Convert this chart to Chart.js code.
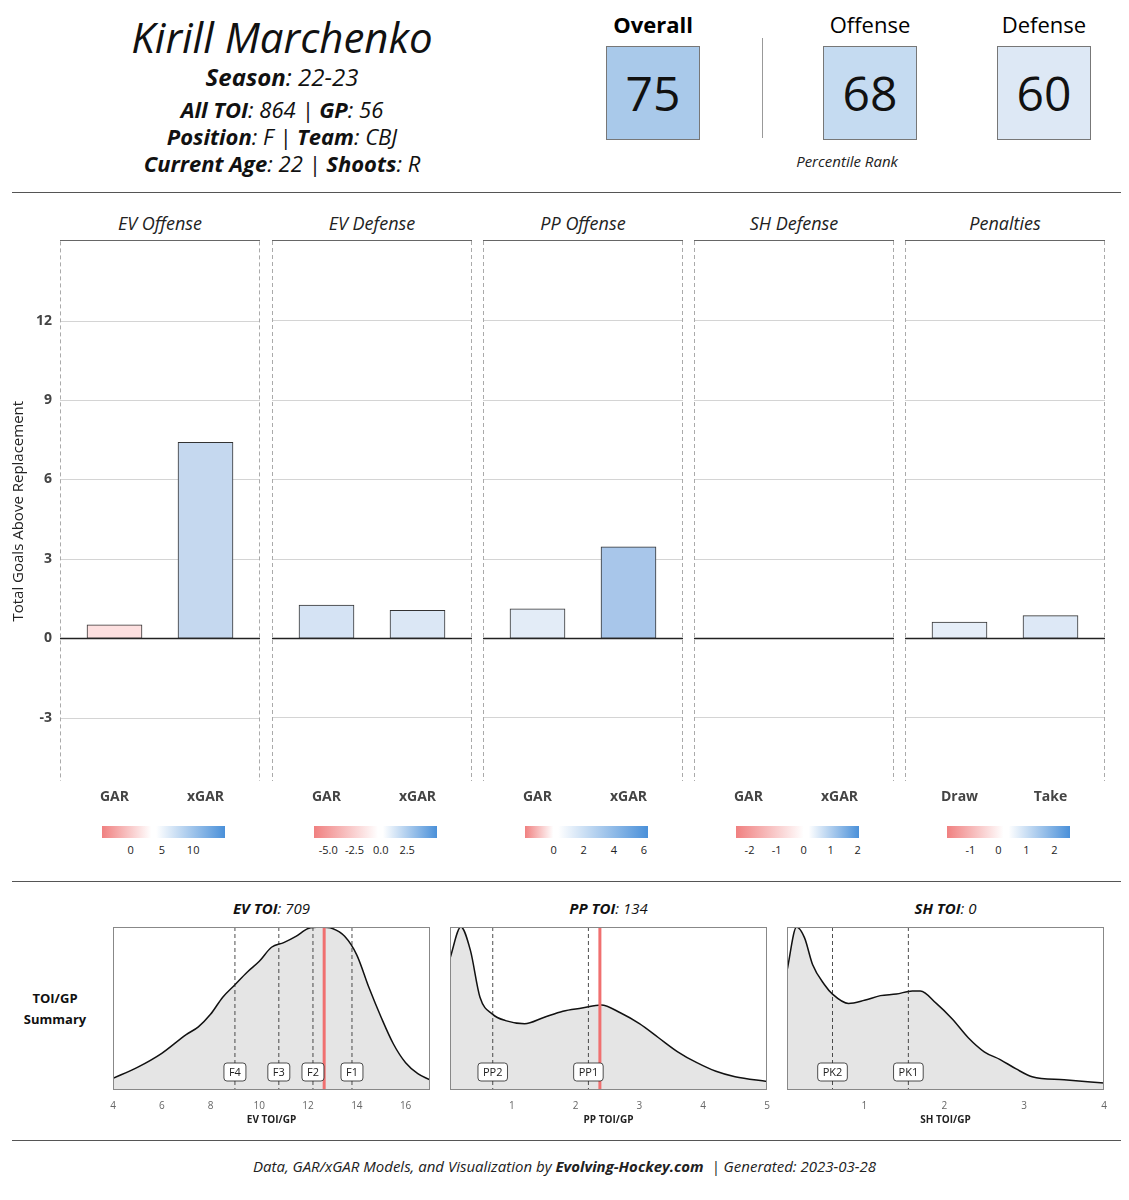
<!DOCTYPE html>
<html>
<head>
<meta charset="utf-8">
<script src="https://cdn.jsdelivr.net/npm/chart.js@4"></script>
<style>
body { margin: 0; width: 1129px; height: 1200px; background: #fff; font-family: "Open Sans", sans-serif; position: relative; overflow: hidden; }
.abs { position: absolute; }
.c { text-align: center; }
.rule { position: absolute; left: 12px; width: 1109px; height: 1px; background: #555; }
.hdr { position: absolute; left: 82px; width: 400px; text-align: center; font-style: italic; color: #111; }
.hdr b { font-weight: 700; }
.box { position: absolute; width: 92px; height: 92px; border: 1px solid #777; font-size: 48px; line-height: 92px; text-align: center; color: #111; }
.lab { position: absolute; width: 140px; text-align: center; font-size: 22px; }
.strip { position: absolute; top: 211px; height: 29px; border-bottom: 1.5px solid #666; text-align: center; font-style: italic; font-size: 18px; color: #222; }
.cbar { position: absolute; top: 826px; height: 12px; width: 123px; }
.ctick { position: absolute; top: 842px; font-size: 11px; color: #222; transform: translateX(-50%); }
.dtitle { position: absolute; top: 898px; text-align: center; font-size: 15px; font-style: italic; color: #111; }
canvas { position: absolute; }
</style>
</head>
<body>
<div class="hdr" style="top:8px;font-size:42px;">Kirill Marchenko</div>
<div class="hdr" style="top:60px;font-size:24px;"><b>Season</b>: 22-23</div>
<div class="hdr" style="top:94px;font-size:22px;"><b>All TOI</b>: 864 | <b>GP</b>: 56</div>
<div class="hdr" style="top:121px;font-size:22px;"><b>Position</b>: F | <b>Team</b>: CBJ</div>
<div class="hdr" style="top:148px;font-size:22px;"><b>Current Age</b>: 22 | <b>Shoots</b>: R</div>

<div class="lab" style="left:583px;top:9px;font-weight:700;">Overall</div>
<div class="lab" style="left:800px;top:9px;">Offense</div>
<div class="lab" style="left:974px;top:9px;">Defense</div>
<div class="box" id="bOverall" style="left:606px;top:46px;"></div>
<div class="box" id="bOffense" style="left:823px;top:46px;"></div>
<div class="box" id="bDefense" style="left:997px;top:46px;"></div>
<div class="abs" style="left:762px;top:38px;width:1px;height:100px;background:#999;"></div>
<div class="abs c" style="left:747px;top:151px;width:200px;font-size:15px;font-style:italic;color:#222;">Percentile Rank</div>

<div class="rule" style="top:192px;"></div>
<div class="rule" style="top:881px;"></div>
<div class="rule" style="top:1140px;"></div>

<div id="strips"></div>
<div id="cbars"></div>

<div class="abs" style="left:10px;top:988px;width:90px;text-align:center;font-weight:700;font-size:13px;line-height:21px;color:#111;">TOI/GP<br>Summary</div>
<div id="dtitles"></div>

<div class="abs c" style="left:0;top:1156px;width:1129px;font-size:15px;font-style:italic;color:#222;">Data, GAR/xGAR Models, and Visualization by <b>Evolving-Hockey.com</b> &nbsp;| Generated: 2023-03-28</div>

<canvas id="bar0"></canvas><canvas id="bar1"></canvas><canvas id="bar2"></canvas><canvas id="bar3"></canvas><canvas id="bar4"></canvas>
<canvas id="dens0"></canvas><canvas id="dens1"></canvas><canvas id="dens2"></canvas>

<script>
// Percentile ranks
const rankNames = ['Overall', 'Offense', 'Defense'];
const rankValues = [75, 68, 60];
const rankColors = ['#a9c9ea', '#c5dbf1', '#dde8f5'];

// GAR panels
const panelTitles = ['EV Offense', 'EV Defense', 'PP Offense', 'SH Defense', 'Penalties'];
const panelCats = [['GAR', 'xGAR'], ['GAR', 'xGAR'], ['GAR', 'xGAR'], ['GAR', 'xGAR'], ['Draw', 'Take']];
const panelValues = [[0.5, 7.4], [1.25, 1.05], [1.1, 3.45], [0, 0], [0.6, 0.85]];
const panelColors = [['#fde0e0', '#c5d8ef'], ['#d5e3f4', '#dbe7f5'], ['#e3ecf7', '#a8c6ea'], ['#ffffff', '#ffffff'], ['#e6eef8', '#dde8f6']];
const yTicks = [-3, 0, 3, 6, 9, 12];

// colour bar legends
const cbarTicks = [[0, 5, 10], [-5.0, -2.5, 0.0, 2.5], [0, 2, 4, 6], [-2, -1, 0, 1, 2], [-1, 0, 1, 2]];
const cbarTickLabels = [['0', '5', '10'], ['-5.0', '-2.5', '0.0', '2.5'], ['0', '2', '4', '6'], ['-2', '-1', '0', '1', '2'], ['-1', '0', '1', '2']];
const cbarRange = [[-4.6, 15.1], [-6.35, 5.34], [-1.9, 6.27], [-2.5, 2.05], [-1.84, 2.56]];
const cbarWhite = [0.4, 0.52, 0.23, 0.55, 0.46];

// TOI/GP densities
const densTitles = [['EV TOI', 709], ['PP TOI', 134], ['SH TOI', 0]];
const densAxis = ['EV TOI/GP', 'PP TOI/GP', 'SH TOI/GP'];
const evX = [4, 5, 6, 7, 7.5, 8, 8.5, 9, 9.5, 10, 10.5, 11, 11.5, 12, 12.5, 13, 13.5, 14, 14.5, 15, 15.5, 16, 16.5, 17];
const evY = [0.03, 0.1, 0.19, 0.31, 0.36, 0.44, 0.55, 0.63, 0.71, 0.78, 0.87, 0.9, 0.94, 0.99, 1.0, 0.99, 0.94, 0.82, 0.61, 0.42, 0.25, 0.13, 0.06, 0.02];
const ppX = [0.03, 0.2, 0.35, 0.5, 0.7, 0.9, 1.2, 1.5, 1.8, 2.1, 2.4, 2.7, 3.0, 3.3, 3.6, 3.9, 4.2, 4.5, 5.0];
const ppY = [0.8, 1.0, 0.85, 0.55, 0.44, 0.4, 0.38, 0.42, 0.46, 0.48, 0.5, 0.45, 0.38, 0.29, 0.2, 0.13, 0.075, 0.04, 0.01];
const shX = [0.03, 0.15, 0.25, 0.35, 0.5, 0.6, 0.8, 1.0, 1.2, 1.4, 1.6, 1.7, 1.9, 2.1, 2.3, 2.5, 2.7, 2.9, 3.1, 3.5, 4.0];
const shY = [0.72, 1.0, 0.93, 0.76, 0.63, 0.57, 0.51, 0.53, 0.56, 0.57, 0.59, 0.59, 0.51, 0.41, 0.29, 0.2, 0.15, 0.09, 0.04, 0.02, 0.0];
const densX = [evX, ppX, shX];
const densY = [evY, ppY, shY];
const densRange = [[4, 17], [0.03, 5], [0.03, 4]];
const densTicks = [[4, 6, 8, 10, 12, 14, 16], [1, 2, 3, 4, 5], [1, 2, 3, 4]];
const lineNames = [['F4', 'F3', 'F2', 'F1'], ['PP2', 'PP1'], ['PK2', 'PK1']];
const lineValues = [[9.0, 10.8, 12.2, 13.8], [0.7, 2.2], [0.6, 1.55]];
const playerValue = [12.66, 2.38, null];

rankNames.forEach((n, i) => {
    const el = document.getElementById('b' + n);
    el.textContent = rankValues[i];
    el.style.background = rankColors[i];
});

const panelLeft = [60, 272, 483, 694, 905];
const panelW = 200;
const sidePad = 9;

// strips and colour bars
let html = '';
panelTitles.forEach((t, i) => {
    html += `<div class="strip" style="left:${panelLeft[i]}px;width:${panelW}px;">${t}</div>`;
});
document.getElementById('strips').innerHTML = html;
html = '';
panelTitles.forEach((t, i) => {
    const left = panelLeft[i] + 42;
    const w = cbarWhite[i] * 100;
    html += `<div class="cbar" style="left:${left}px;background:linear-gradient(to right,#f08080 0%,#ffffff ${w}%,#ffffff ${w + 4}%,#4a90d9 100%);"></div>`;
    const [lo, hi] = cbarRange[i];
    cbarTicks[i].forEach((v, j) => {
        const x = left + (v - lo) / (hi - lo) * 123;
        html += `<div class="ctick" style="left:${x}px;">${cbarTickLabels[i][j]}</div>`;
    });
});
document.getElementById('cbars').innerHTML = html;

// grid lines across the whole panel and dashed panel borders
const panelFrame = {
    id: 'panelFrame',
    beforeDatasetsDraw(chart) {
        const { ctx, chartArea: a, scales: { y } } = chart;
        const l = a.left - sidePad, r = a.right + sidePad;
        ctx.save();
        yTicks.forEach(v => {
            const py = Math.round(y.getPixelForValue(v)) + 0.5;
            ctx.strokeStyle = v === 0 ? '#222' : '#d4d4d4';
            ctx.lineWidth = v === 0 ? 1.5 : 1;
            ctx.beginPath(); ctx.moveTo(l, py); ctx.lineTo(r, py); ctx.stroke();
        });
        ctx.strokeStyle = '#aaa';
        ctx.lineWidth = 1;
        ctx.setLineDash([4, 3]);
        [l + 0.5, r - 0.5].forEach(x => {
            ctx.beginPath(); ctx.moveTo(x, a.top); ctx.lineTo(x, a.bottom); ctx.stroke();
        });
        ctx.restore();
    }
};

const topShift = 14;
panelTitles.forEach((t, i) => {
    const first = i === 0;
    const cv = document.getElementById('bar' + i);
    const left = first ? 0 : panelLeft[i];
    const w = first ? panelLeft[0] + panelW : panelW;
    const extra = first ? 3 : 0;
    const h = 540 + topShift + 26 + extra;
    cv.style.left = left + 'px';
    cv.style.top = (241 - topShift - extra) + 'px';
    cv.style.width = w + 'px';
    cv.style.height = h + 'px';
    cv.width = w; cv.height = h;
    new Chart(cv, {
        type: 'bar',
        data: {
            labels: panelCats[i],
            datasets: [{
                data: panelValues[i],
                backgroundColor: panelColors[i],
                borderColor: '#333',
                borderWidth: 1,
                borderSkipped: false,
                barThickness: 55
            }]
        },
        options: {
            responsive: false,
            animation: false,
            layout: { padding: { left: first ? 10 : 0, right: sidePad, top: topShift, bottom: 0 } },
            plugins: { legend: { display: false }, tooltip: { enabled: false } },
            scales: {
                x: {
                    afterFit: s => { s.height = 26; },
                    grid: { display: false },
                    border: { display: false },
                    ticks: {
                        color: '#444', font: { family: 'Open Sans', size: 14, weight: 'bold' }, padding: 0
                    }
                },
                y: {
                    min: -5.4, max: 15,
                    afterBuildTicks: s => { s.ticks = yTicks.map(v => ({ value: v })); },
                    afterFit: s => { s.width = (first ? 50 : 0) + sidePad; },
                    grid: { display: false },
                    border: { display: false },
                    title: {
                        display: first, text: 'Total Goals Above Replacement',
                        color: '#222', font: { family: 'Open Sans', size: 15 }, padding: { top: 0, bottom: 4 }
                    },
                    ticks: {
                        display: first, color: '#444', padding: 9,
                        font: { family: 'Open Sans', size: 14, weight: 'bold' }
                    }
                }
            }
        },
        plugins: [panelFrame]
    });
});

// density panels
const densLeft = [113, 450, 787];
const densW = 317;
html = '';
densTitles.forEach((t, i) => {
    html += `<div class="dtitle" style="left:${densLeft[i]}px;width:${densW}px;"><b>${t[0]}</b>: ${t[1]}</div>`;
});
document.getElementById('dtitles').innerHTML = html;

const markers = {
    id: 'markers',
    afterDatasetsDraw(chart, args, opts) {
        const { ctx, chartArea: a, scales: { x } } = chart;
        ctx.save();
        ctx.strokeStyle = '#222';
        ctx.lineWidth = 0.8;
        ctx.setLineDash([4, 3]);
        opts.values.forEach(v => {
            const px = x.getPixelForValue(v);
            ctx.beginPath(); ctx.moveTo(px, a.top); ctx.lineTo(px, a.bottom); ctx.stroke();
        });
        ctx.setLineDash([]);
        if (opts.player != null) {
            const px = x.getPixelForValue(opts.player);
            ctx.strokeStyle = '#f07070';
            ctx.lineWidth = 3;
            ctx.beginPath(); ctx.moveTo(px, a.top); ctx.lineTo(px, a.bottom); ctx.stroke();
        }
        ctx.font = '11px "Open Sans"';
        ctx.textAlign = 'center';
        ctx.textBaseline = 'middle';
        opts.values.forEach((v, j) => {
            const px = x.getPixelForValue(v);
            const name = opts.names[j];
            const w = ctx.measureText(name).width + 10;
            const y = a.bottom - 18;
            ctx.fillStyle = '#fff';
            ctx.strokeStyle = '#222';
            ctx.lineWidth = 0.8;
            ctx.beginPath();
            ctx.roundRect(px - w / 2, y - 9, w, 18, 3);
            ctx.fill(); ctx.stroke();
            ctx.fillStyle = '#222';
            ctx.fillText(name, px, y + 1);
        });
        ctx.strokeStyle = '#888';
        ctx.lineWidth = 1;
        ctx.strokeRect(a.left + 0.5, a.top + 0.5, a.width - 1, a.height - 1);
        ctx.restore();
    }
};

densTitles.forEach((t, i) => {
    const cv = document.getElementById('dens' + i);
    const pad = 12;
    const w = densW + pad * 2;
    cv.style.left = (densLeft[i] - pad) + 'px';
    cv.style.top = '927px';
    cv.style.width = w + 'px';
    cv.style.height = '199px';
    cv.width = w; cv.height = 199;
    new Chart(cv, {
        type: 'line',
        data: {
            datasets: [{
                data: densX[i].map((v, j) => ({ x: v, y: densY[i][j] })),
                borderColor: '#111',
                borderWidth: 1.5,
                backgroundColor: '#e5e5e5',
                fill: 'start',
                pointRadius: 0,
                cubicInterpolationMode: 'monotone'
            }]
        },
        options: {
            responsive: false,
            animation: false,
            layout: { padding: { left: pad, right: pad, top: 0, bottom: 0 } },
            plugins: {
                legend: { display: false }, tooltip: { enabled: false },
                markers: { values: lineValues[i], names: lineNames[i], player: playerValue[i] }
            },
            scales: {
                x: {
                    type: 'linear', min: densRange[i][0], max: densRange[i][1],
                    afterBuildTicks: s => { s.ticks = densTicks[i].map(v => ({ value: v })); },
                    grid: { display: false },
                    border: { display: false },
                    ticks: { color: '#666', font: { family: 'Open Sans', size: 10 }, padding: 2 },
                    title: { display: true, text: densAxis[i], color: '#222', font: { family: 'Open Sans', size: 10, weight: 'bold' }, padding: 0 }
                },
                y: { display: false, min: -0.045, max: 1.0 }
            }
        },
        plugins: [markers]
    });
});
</script>
</body>
</html>
